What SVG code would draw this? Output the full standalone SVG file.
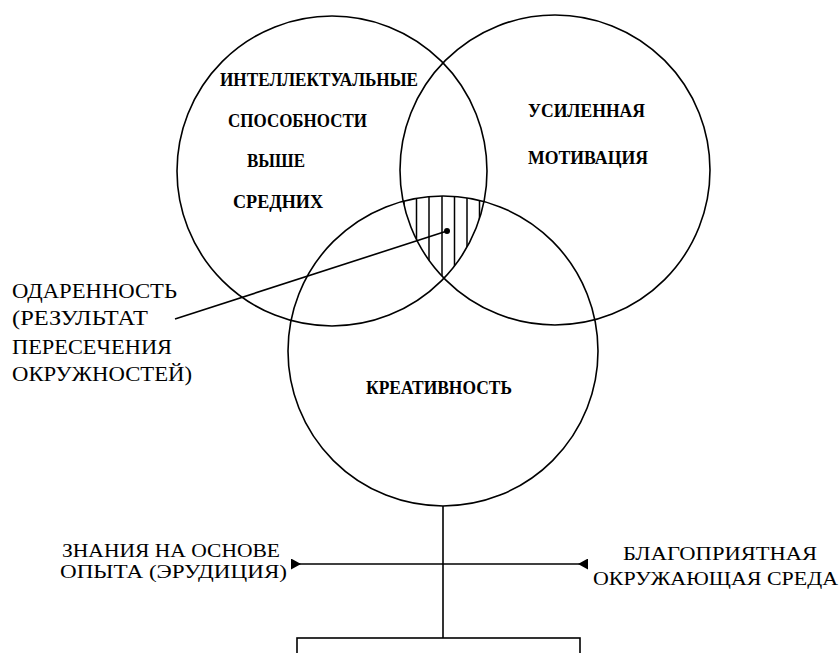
<svg xmlns="http://www.w3.org/2000/svg" width="840" height="653" viewBox="0 0 840 653">
  <style>
    .ring { fill: none; stroke: #000; stroke-width: 1.6; }
    .ln { fill: none; stroke: #000; stroke-width: 1.6; }
    .hatch { stroke: #000; stroke-width: 1.5; }
    .in { font-family: "Liberation Serif", "DejaVu Serif", serif; font-size: 19px; font-weight: bold; fill: #000; }
    .out { font-family: "Liberation Serif", "DejaVu Serif", serif; font-size: 21px; fill: #000; }
    .low { font-family: "Liberation Serif", "DejaVu Serif", serif; font-size: 19px; fill: #000; }
  </style>
  <defs>
    <clipPath id="c1"><circle cx="332" cy="171" r="155"/></clipPath>
    <clipPath id="c2"><circle cx="555" cy="170" r="155"/></clipPath>
    <clipPath id="c3"><circle cx="443" cy="351" r="155"/></clipPath>
    <marker id="tri" viewBox="0 0 10 10" refX="0" refY="5" markerWidth="10" markerHeight="11" markerUnits="userSpaceOnUse" orient="auto" preserveAspectRatio="none">
      <path d="M0,0 L10,5 L0,10 z" fill="#000"/>
    </marker>
  </defs>
  <rect width="840" height="653" fill="#fff"/>

  <g id="giftedness-zone">
    <g clip-path="url(#c1)">
      <g clip-path="url(#c2)">
        <g clip-path="url(#c3)">
          <line class="hatch" x1="404" y1="180" x2="404" y2="290"/>
          <line class="hatch" x1="416.5" y1="180" x2="416.5" y2="290"/>
          <line class="hatch" x1="429" y1="180" x2="429" y2="290"/>
          <line class="hatch" x1="442" y1="180" x2="442" y2="290"/>
          <line class="hatch" x1="454.5" y1="180" x2="454.5" y2="290"/>
          <line class="hatch" x1="467" y1="180" x2="467" y2="290"/>
          <line class="hatch" x1="479.5" y1="180" x2="479.5" y2="290"/>
        </g>
      </g>
    </g>
  </g>

  <g id="intellect">
    <circle class="ring" cx="332" cy="171" r="155"/>
    <text class="in" x="220" y="86" textLength="198" lengthAdjust="spacingAndGlyphs">ИНТЕЛЛЕКТУАЛЬНЫЕ</text>
    <text class="in" x="228" y="127" textLength="139" lengthAdjust="spacingAndGlyphs">СПОСОБНОСТИ</text>
    <text class="in" x="247" y="167" textLength="58" lengthAdjust="spacingAndGlyphs">ВЫШЕ</text>
    <text class="in" x="233" y="208" textLength="90" lengthAdjust="spacingAndGlyphs">СРЕДНИХ</text>
  </g>

  <g id="motivation">
    <circle class="ring" cx="555" cy="170" r="155"/>
    <text class="in" x="528" y="117" textLength="117" lengthAdjust="spacingAndGlyphs">УСИЛЕННАЯ</text>
    <text class="in" x="528" y="164" textLength="120" lengthAdjust="spacingAndGlyphs">МОТИВАЦИЯ</text>
  </g>

  <g id="creativity">
    <circle class="ring" cx="443" cy="351" r="155"/>
    <text class="in" x="366" y="394" textLength="146" lengthAdjust="spacingAndGlyphs">КРЕАТИВНОСТЬ</text>
  </g>

  <g id="giftedness-label">
    <text class="out" x="12" y="298" textLength="165" lengthAdjust="spacingAndGlyphs">ОДАРЕННОСТЬ</text>
    <text class="out" x="12" y="325" textLength="136" lengthAdjust="spacingAndGlyphs">(РЕЗУЛЬТАТ</text>
    <text class="out" x="12" y="354" textLength="160" lengthAdjust="spacingAndGlyphs">ПЕРЕСЕЧЕНИЯ</text>
    <text class="out" x="12" y="381" textLength="180" lengthAdjust="spacingAndGlyphs">ОКРУЖНОСТЕЙ)</text>
  </g>

  <g id="knowledge">
    <text class="low" x="62" y="557" textLength="218" lengthAdjust="spacingAndGlyphs">ЗНАНИЯ НА ОСНОВЕ</text>
    <text class="low" x="60" y="578" textLength="227" lengthAdjust="spacingAndGlyphs">ОПЫТА (ЭРУДИЦИЯ)</text>
  </g>

  <g id="environment">
    <text class="low" x="623" y="560" textLength="194" lengthAdjust="spacingAndGlyphs">БЛАГОПРИЯТНАЯ</text>
    <text class="low" x="593" y="585" textLength="245" lengthAdjust="spacingAndGlyphs">ОКРУЖАЮЩАЯ СРЕДА</text>
  </g>

  <g id="result-box">
    <rect class="ln" x="297" y="638" width="283" height="40"/>
  </g>

  <g id="connectors">
    <line class="ln" x1="175" y1="319" x2="447" y2="231"/>
    <circle cx="447" cy="231" r="3" fill="#000"/>
    <line class="ln" x1="443" y1="506" x2="443" y2="638"/>
    <line class="ln" x1="291" y1="564" x2="443" y2="564" marker-start="url(#tri)"/>
    <line class="ln" x1="588" y1="564" x2="443" y2="564" marker-start="url(#tri)"/>
  </g>
</svg>
